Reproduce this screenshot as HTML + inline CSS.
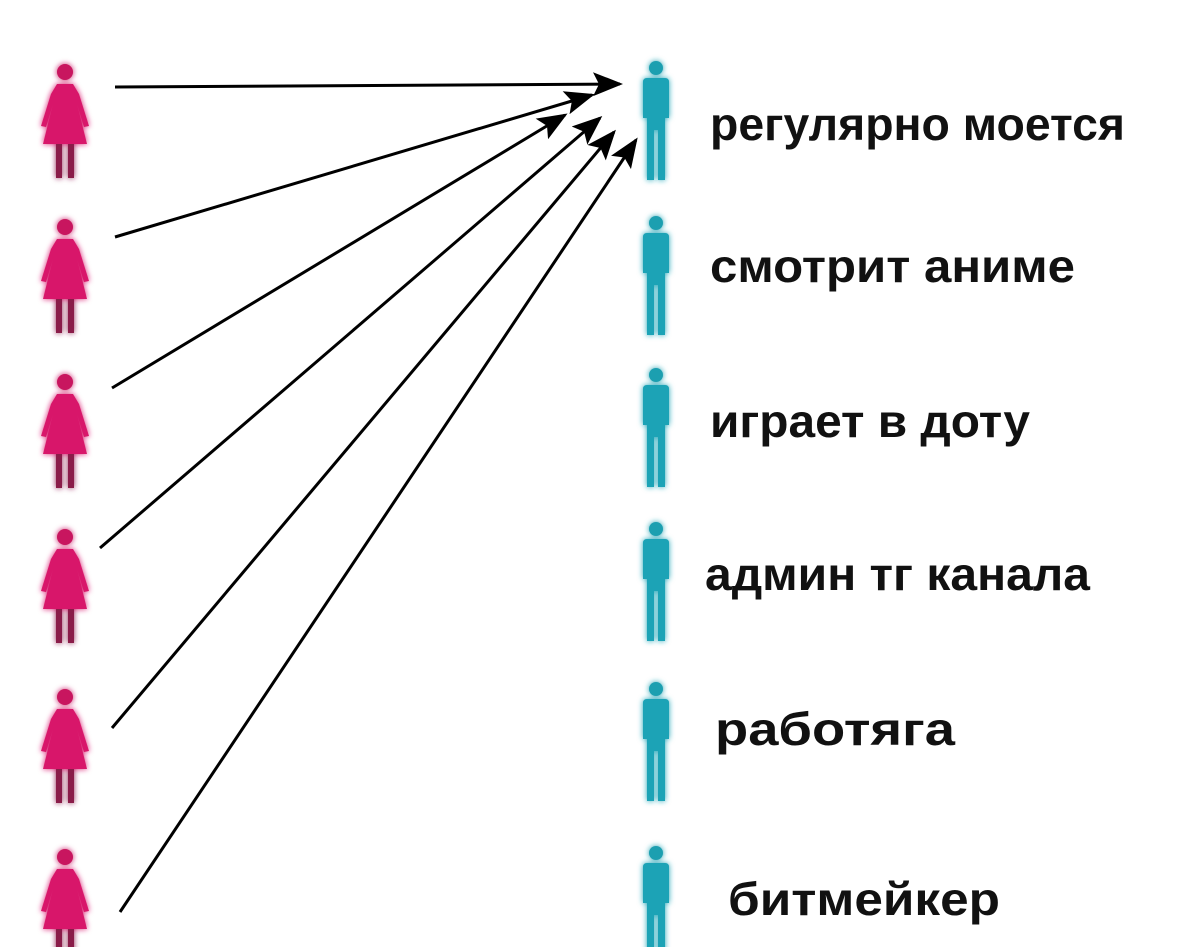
<!DOCTYPE html>
<html><head><meta charset="utf-8"><style>
html,body{margin:0;padding:0;background:#fff;}
svg{display:block}
text{font-family:"Liberation Sans",Arial,sans-serif;font-weight:bold;font-size:46px;fill:#111}
</style></head><body>
<svg width="1179" height="947" viewBox="0 0 1179 947" xmlns="http://www.w3.org/2000/svg">
<defs>
<filter id="gp" x="-50%" y="-50%" width="200%" height="200%"><feGaussianBlur stdDeviation="3" result="b"/><feMerge><feMergeNode in="b"/><feMergeNode in="SourceGraphic"/></feMerge></filter>
<g id="f">
<circle cx="22" cy="14" r="8" fill="#c8135e"/>
<path d="M14 26 L30 26 L36 36 L46 68 L41 69 L34 46 L44 86 L0 86 L10 46 L3 69 L-2 68 L8 36 Z" fill="#d8176a"/>
<rect x="13" y="86" width="6" height="34" fill="#8a1d4a"/>
<rect x="25" y="86" width="6" height="34" fill="#8a1d4a"/>
</g>
<g id="m">
<circle cx="13" cy="8" r="7" fill="#1e9fb0"/>
<path d="M4 18 L22 18 Q26 18 26 22 L26 58 L22 58 L22 36 L22 120 L15 120 L15 70 L11 70 L11 120 L4 120 L4 36 L4 58 L0 58 L0 22 Q0 18 4 18 Z" fill="#1aa3b6"/>
</g>
<marker id="a" markerWidth="10" markerHeight="8" refX="9" refY="4" orient="auto" markerUnits="strokeWidth"><path d="M0 0 L10 4 L0 8 L2 4 Z" fill="#000"/></marker>
</defs>
<g filter="url(#gp)">
<use href="#f" x="43" y="58"/>
<use href="#f" x="43" y="213"/>
<use href="#f" x="43" y="368"/>
<use href="#f" x="43" y="523"/>
<use href="#f" x="43" y="683"/>
<use href="#f" x="43" y="843"/>
<use href="#m" x="643" y="60"/>
<use href="#m" x="643" y="215"/>
<use href="#m" x="643" y="367"/>
<use href="#m" x="643" y="521"/>
<use href="#m" x="643" y="681"/>
<use href="#m" x="643" y="845"/>
</g>
<g stroke="#000" stroke-width="3" fill="none" marker-end="url(#a)">
<line x1="115" y1="87" x2="620" y2="84"/>
<line x1="115" y1="237" x2="592" y2="95"/>
<line x1="112" y1="388" x2="565" y2="115"/>
<line x1="100" y1="548" x2="600" y2="118"/>
<line x1="112" y1="728" x2="614" y2="132"/>
<line x1="120" y1="912" x2="636" y2="140"/>
</g>
<text x="710" y="140" textLength="415" lengthAdjust="spacingAndGlyphs">регулярно моется</text>
<text x="710" y="282" textLength="365" lengthAdjust="spacingAndGlyphs">смотрит аниме</text>
<text x="710" y="437" textLength="320" lengthAdjust="spacingAndGlyphs">играет в доту</text>
<text x="705" y="590" textLength="385" lengthAdjust="spacingAndGlyphs">админ тг канала</text>
<text x="715" y="745" textLength="240" lengthAdjust="spacingAndGlyphs">работяга</text>
<text x="728" y="915" textLength="272" lengthAdjust="spacingAndGlyphs">битмейкер</text>
</svg>
</body></html>
